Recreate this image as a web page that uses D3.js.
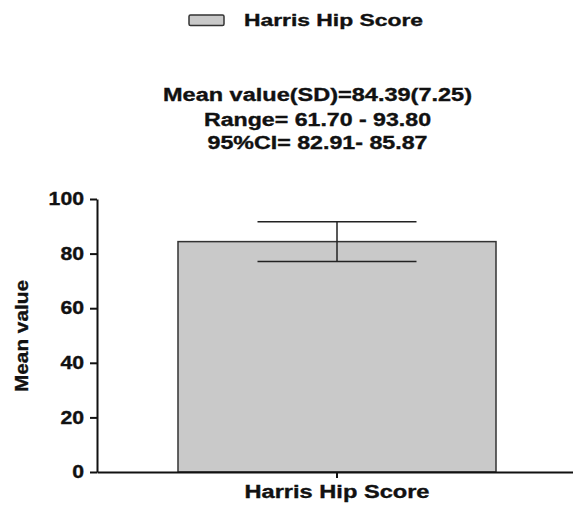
<!DOCTYPE html>
<html>
<head>
<meta charset="utf-8">
<script src="https://cdn.jsdelivr.net/npm/d3@7"></script>
<style>
  body { margin: 0; background: #fff; }
  text { font-family: "Liberation Sans", Arial, sans-serif; font-weight: bold; fill: #111; stroke: #111; stroke-width: 0.35px; }
</style>
</head>
<body>
<div id="chart"></div>
<script>
// data
var categories = ["Harris Hip Score"];
var means = [84.39];
var sds = [7.25];
var yTicks = [0, 20, 40, 60, 80, 100];
var notes = ["Mean value(SD)=84.39(7.25)", "Range= 61.70 - 93.80", "95%CI= 82.91- 85.87"];

var width = 573, height = 505;
var axisX = 97, axisY = 472, topY = 199;

var svg = d3.select("#chart")
    .append("svg")
    .attr("width", width)
    .attr("height", height);

var x = d3.scaleBand()
    .domain(categories)
    .range([axisX, 577])
    .paddingInner(0.203)
    .paddingOuter(0.203);

var y = d3.scaleLinear()
    .domain([0, 100])
    .range([axisY, topY]);

// bars
svg.selectAll("rect.bar")
    .data(categories)
    .enter().append("rect")
    .attr("class", "bar")
    .attr("x", d => x(d))
    .attr("y", (d, i) => y(means[i]))
    .attr("width", x.bandwidth())
    .attr("height", (d, i) => axisY - y(means[i]))
    .attr("fill", "#c9c9c9")
    .attr("stroke", "#333")
    .attr("stroke-width", 1.5);

// error bars
categories.forEach((c, i) => {
    var cx = x(c) + x.bandwidth() / 2;
    var cw = x.bandwidth() / 4;
    var g = svg.append("g").attr("stroke", "#222").attr("stroke-width", 1.5);
    g.append("line")
        .attr("x1", cx).attr("x2", cx)
        .attr("y1", y(means[i] + sds[i])).attr("y2", y(means[i] - sds[i]));
    [means[i] + sds[i], means[i] - sds[i]].forEach(v => {
        g.append("line")
            .attr("x1", cx - cw).attr("x2", cx + cw)
            .attr("y1", y(v)).attr("y2", y(v));
    });
});

// axes
var yAxis = svg.append("g")
    .attr("transform", "translate(" + axisX + ",0)")
    .call(d3.axisLeft(y).tickValues(yTicks).tickSize(7).tickSizeOuter(0).tickPadding(6));
yAxis.selectAll("path, line").attr("stroke", "#111").attr("stroke-width", 2);
yAxis.selectAll("text")
    .attr("font-size", 17.5)
    .attr("textLength", d => String(d).length * 11.8)
    .attr("lengthAdjust", "spacingAndGlyphs")
    .attr("font-family", null)
    .attr("fill", null);

var xAxis = svg.append("g")
    .attr("transform", "translate(0," + axisY + ")")
    .call(d3.axisBottom(x).tickSize(6).tickSizeOuter(0).tickPadding(8));
xAxis.selectAll("path, line").attr("stroke", "#111").attr("stroke-width", 2);
xAxis.selectAll("text")
    .attr("font-size", 17.5)
    .attr("textLength", 185)
    .attr("lengthAdjust", "spacingAndGlyphs")
    .attr("font-family", null)
    .attr("fill", null);

// y label
svg.append("text")
    .attr("transform", "translate(28,336) rotate(-90)")
    .attr("text-anchor", "middle")
    .attr("font-size", 19)
    .attr("textLength", 112)
    .attr("lengthAdjust", "spacingAndGlyphs")
    .text("Mean value");

// notes above the plot
var noteWidths = [309, 227, 220];
var noteBase = [101, 125.5, 149];
svg.selectAll("text.note")
    .data(notes)
    .enter().append("text")
    .attr("class", "note")
    .attr("x", 317.5)
    .attr("y", (d, i) => noteBase[i])
    .attr("text-anchor", "middle")
    .attr("font-size", 17.5)
    .attr("textLength", (d, i) => noteWidths[i])
    .attr("lengthAdjust", "spacingAndGlyphs")
    .text(d => d);

// legend
var legend = svg.append("g");
legend.append("rect")
    .attr("x", 189).attr("y", 15)
    .attr("width", 35).attr("height", 10.5)
    .attr("rx", 1.5)
    .attr("fill", "#c9c9c9")
    .attr("stroke", "#333")
    .attr("stroke-width", 1.5);
legend.append("text")
    .attr("x", 244).attr("y", 26)
    .attr("font-size", 16)
    .attr("textLength", 179)
    .attr("lengthAdjust", "spacingAndGlyphs")
    .text(categories[0]);
</script>
</body>
</html>
